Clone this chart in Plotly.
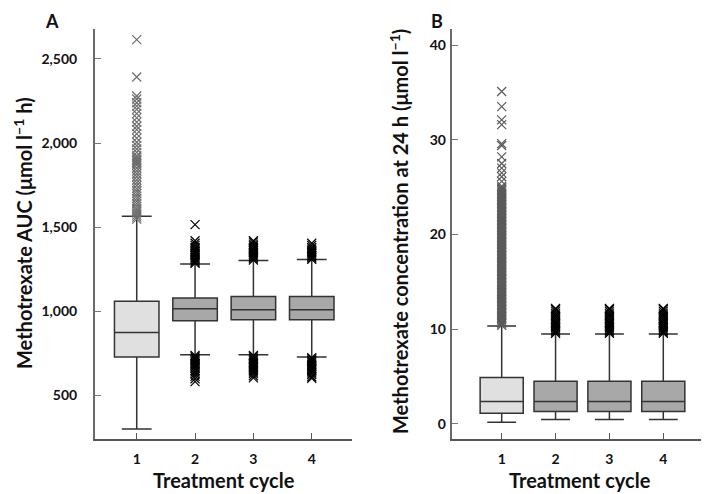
import plotly.graph_objects as go

cycles = [1, 2, 3, 4]
tick_labels = ["1", "2", "3", "4"]

# Panel A: methotrexate AUC (umol/l h)
auc_ticks = [500, 1000, 1500, 2000, 2500]
auc_tick_labels = ["500", "1,000", "1,500", "2,000", "2,500"]
auc_q1 = [729, 945, 951, 951]
auc_median = [875, 1016, 1010, 1010]
auc_q3 = [1060, 1080, 1089, 1089]
auc_lower = [302, 742, 742, 729]
auc_upper = [1565, 1282, 1302, 1308]

auc_out_c1 = [1548, 1560, 1572, 1585, 1598, 1610, 1625, 1640, 1655, 1670, 1685, 1700,
              1715, 1730, 1748, 1765, 1782, 1800, 1818, 1835, 1852, 1870, 1880, 1888,
              1898, 1905, 1915, 1925, 1945, 1965, 1985, 2005, 2030, 2055, 2080, 2100,
              2125, 2150, 2175, 2200, 2220, 2240, 2262, 2280, 2393, 2615]
auc_out_c2 = [1285, 1292, 1300, 1308, 1315, 1322, 1330, 1338, 1345, 1352, 1360, 1370,
              1380, 1392, 1405, 1420, 1516,
              738, 730, 722, 715, 708, 700, 692, 684, 676, 668, 660, 650, 640, 628,
              615, 600, 583]
auc_out_c3 = [1305, 1312, 1320, 1328, 1335, 1342, 1350, 1358, 1365, 1372, 1380, 1390,
              1400, 1412, 1420,
              738, 730, 722, 714, 706, 698, 690, 682, 674, 666, 658, 650, 640, 630,
              618, 605]
auc_out_c4 = [1310, 1318, 1326, 1334, 1342, 1350, 1360, 1370, 1380, 1392, 1405,
              725, 718, 710, 702, 694, 686, 678, 670, 662, 654, 645, 635, 625, 612, 603]

# Panel B: methotrexate concentration at 24 h (umol/l)
c24_ticks = [0, 10, 20, 30, 40]
c24_tick_labels = ["0", "10", "20", "30", "40"]
c24_q1 = [1.13, 1.3, 1.3, 1.3]
c24_median = [2.35, 2.35, 2.35, 2.35]
c24_q3 = [4.89, 4.5, 4.5, 4.5]
c24_lower = [0.18, 0.46, 0.46, 0.46]
c24_upper = [10.34, 9.5, 9.5, 9.5]

c24_out_c1 = [10.40, 10.55, 10.70, 10.85, 11.00, 11.15, 11.30, 11.45, 11.60, 11.75,
              11.90, 12.05, 12.20, 12.35, 12.50, 12.65, 12.80, 12.95, 13.10, 13.25,
              13.40, 13.55, 13.70, 13.85, 14.00, 14.15, 14.30, 14.45, 14.60, 14.75,
              14.90, 15.05, 15.20, 15.35, 15.50, 15.65, 15.80, 15.95, 16.10, 16.25,
              16.40, 16.55, 16.70, 16.85, 17.00, 17.15, 17.30, 17.45, 17.60, 17.75,
              17.90, 18.05, 18.20, 18.35, 18.50, 18.65, 18.80, 18.95, 19.10, 19.25,
              19.40, 19.55, 19.70, 19.85, 20.00, 20.15, 20.30, 20.45, 20.60, 20.75,
              20.90, 21.05, 21.20, 21.35, 21.50, 21.65, 21.80, 21.95, 22.10, 22.25,
              22.40, 22.55, 22.70, 22.85, 23.00, 23.15, 23.30, 23.45, 23.60, 23.75,
              23.90, 24.05, 24.20, 24.35, 24.50, 24.65, 24.80, 24.95, 25.10,
              25.6, 26.1, 26.5, 27.0, 27.5, 28.2, 29.4, 29.6, 31.6, 32.1, 33.5, 35.1]
c24_out_c2 = [9.55, 9.7, 9.85, 10.0, 10.15, 10.3, 10.45, 10.6, 10.75, 10.9, 11.1, 11.3,
              11.5, 11.7, 11.9, 12.1, 12.2]
c24_out_c3 = [9.55, 9.7, 9.85, 10.0, 10.15, 10.3, 10.45, 10.6, 10.75, 10.9, 11.1, 11.3,
              11.5, 11.7, 11.9, 12.1, 12.2]
c24_out_c4 = [9.55, 9.7, 9.85, 10.0, 10.15, 10.3, 10.45, 10.6, 10.75, 10.9, 11.1, 11.3,
              11.5, 11.7, 11.9, 12.1, 12.2]

box_fill = ["#e0e0e0", "#a8a8a8", "#a8a8a8", "#a8a8a8"]
out_color_a = ["#6e6e6e", "#000000", "#000000", "#000000"]
out_color_b = ["#5a5a5a", "#000000", "#000000", "#000000"]

fig = go.Figure()

def add_panel(q1, med, q3, lo, up, outs, out_colors, xa, ya, width):
    for i, c in enumerate(cycles):
        fig.add_trace(go.Box(
            x=[c], q1=[q1[i]], median=[med[i]], q3=[q3[i]],
            lowerfence=[lo[i]], upperfence=[up[i]],
            width=width, whiskerwidth=0.67,
            fillcolor=box_fill[i],
            line=dict(color="#333333", width=1.5),
            boxpoints=False, showlegend=False, hoverinfo="skip",
            xaxis=xa, yaxis=ya,
        ))
    for i, c in enumerate(cycles):
        fig.add_trace(go.Scatter(
            x=[c] * len(outs[i]), y=outs[i], mode="markers",
            marker=dict(symbol="x-thin-open", size=9, color=out_colors[i],
                        line=dict(color=out_colors[i], width=1.2)),
            showlegend=False, hoverinfo="skip", xaxis=xa, yaxis=ya,
        ))

add_panel(auc_q1, auc_median, auc_q3, auc_lower, auc_upper,
          [auc_out_c1, auc_out_c2, auc_out_c3, auc_out_c4], out_color_a, "x", "y", 0.763)
add_panel(c24_q1, c24_median, c24_q3, c24_lower, c24_upper,
          [c24_out_c1, c24_out_c2, c24_out_c3, c24_out_c4], out_color_b, "x2", "y2", 0.8)

# the page body adds an 8 px margin, so the figure is drawn 8 px smaller / offset
OFF = 8
W, H = 709 - OFF, 494 - OFF

def px(x):
    return (x - OFF) / W

def py(y):
    return 1 - (y - OFF) / H

FAM = "Lato"
tickfont = dict(family=FAM, size=14, color="#111111")
ydom = [py(439), py(29)]

def bold(lst):
    return ["<b>%s</b>" % s for s in lst]

common_x = dict(tickvals=cycles, ticktext=bold(tick_labels), ticks="inside", ticklen=6,
                tickcolor="#555555", showline=True, linecolor="#555555", linewidth=1.5,
                showgrid=False, zeroline=False, tickfont=tickfont, ticklabelstandoff=6)
common_y = dict(ticks="inside", ticklen=6, tickcolor="#777777", showline=True,
                linecolor="#6a6a6a", linewidth=2, showgrid=False, zeroline=False,
                tickfont=tickfont)

fig.update_layout(
    width=W, height=H,
    margin=dict(l=0, r=0, t=0, b=0),
    paper_bgcolor="white", plot_bgcolor="white",
    xaxis=dict(domain=[px(95), px(352)], range=[0.285, 4.69], anchor="y", **common_x),
    yaxis=dict(domain=ydom, range=[242, 2678], anchor="x",
               tickvals=auc_ticks, ticktext=bold(auc_tick_labels),
               ticklabelstandoff=13, **common_y),
    xaxis2=dict(domain=[px(451.7), px(708)], range=[0.072, 4.83], anchor="y2", **common_x),
    yaxis2=dict(domain=ydom, range=[-1.6, 41.7], anchor="x2",
                tickvals=c24_ticks, ticktext=bold(c24_tick_labels),
                ticklabelstandoff=1, **common_y),
)

title_font = dict(family=FAM, size=20, color="#111111")
label_font = dict(family=FAM, size=18, color="#111111")
annotations = [
    dict(text="<b>A</b>", x=px(52), y=1, yanchor="top", font=label_font),
    dict(text="<b>B</b>", x=px(437), y=1, yanchor="top", font=label_font),
    dict(text="<b>Methotrexate AUC (μmol l<sup>−1</sup> h)</b>", x=0, xanchor="left",
         y=py(233), textangle=-90, font=title_font),
    dict(text="<b>Methotrexate concentration at 24 h (μmol l<sup>−1</sup>)</b>",
         x=px(399), y=py(232), textangle=-90, font=title_font),
    dict(text="<b>Treatment cycle</b>", x=px(224), y=0, yanchor="bottom", font=title_font),
    dict(text="<b>Treatment cycle</b>", x=px(580), y=0, yanchor="bottom", font=title_font),
]
for a in annotations:
    a.setdefault("yanchor", "middle")
    a.setdefault("xanchor", "center")
    a.update(xref="paper", yref="paper", showarrow=False)
fig.update_layout(annotations=annotations)

fig.write_html("out.html")
